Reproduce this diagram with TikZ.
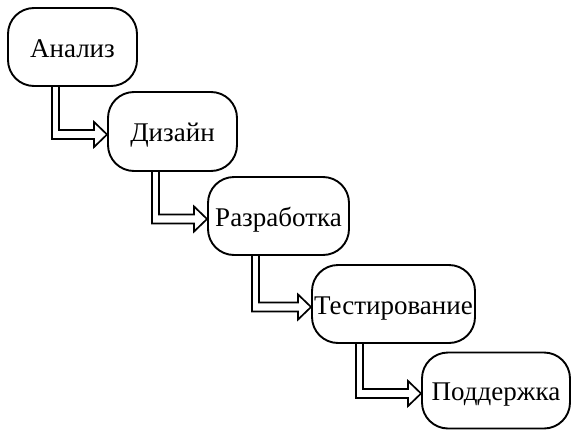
\documentclass[tikz,border=0pt]{standalone}
\usepackage{fontspec}
\setmainfont{Liberation Serif}
\usetikzlibrary{calc}
\tikzset{
  stagebox/.style={draw, line width=1.9pt, rounded corners=26pt, inner sep=0pt,
    minimum height=78pt, text height=20pt, text depth=0pt,
    font=\fontsize{27}{31}\selectfont, text=black},
  flowline/.style={draw, line width=1.7pt, line join=miter},
}
\newcommand\stepconn[2]{%
  \path[flowline] let \p1=(#1.south west), \p2=(#2.west) in
    (\x1+45pt,\y1) -- (\x1+45pt,\y2-7.5pt) -- (\x2-13pt,\y2-7.5pt)
    -- (\x2-13pt,\y2-15.5pt) -- (\x2,\y2-3pt) -- (\x2-13pt,\y2+9.5pt)
    -- (\x2-13pt,\y2+1.5pt) -- (\x1+52pt,\y2+1.5pt) -- (\x1+52pt,\y1);}
\begin{document}
\begin{tikzpicture}[x=1pt,y=-1pt]
\useasboundingbox (0,0) rectangle (575,431);
\node[stagebox, minimum width=129pt, minimum height=78pt] (a) at (72.5,47) {Анализ};
\node[stagebox, minimum width=129pt, minimum height=79pt] (b) at (172.5,131.5) {Дизайн};
\node[stagebox, minimum width=141pt, minimum height=78pt] (c) at (278.5,216) {Разработка};
\node[stagebox, minimum width=163pt, minimum height=78pt] (d) at (393.5,304) {Тестирование};
\node[stagebox, minimum width=148pt, minimum height=76pt] (e) at (496,390.5) {Поддержка};
\stepconn{a}{b}
\stepconn{b}{c}
\stepconn{c}{d}
\stepconn{d}{e}
\end{tikzpicture}
\end{document}
